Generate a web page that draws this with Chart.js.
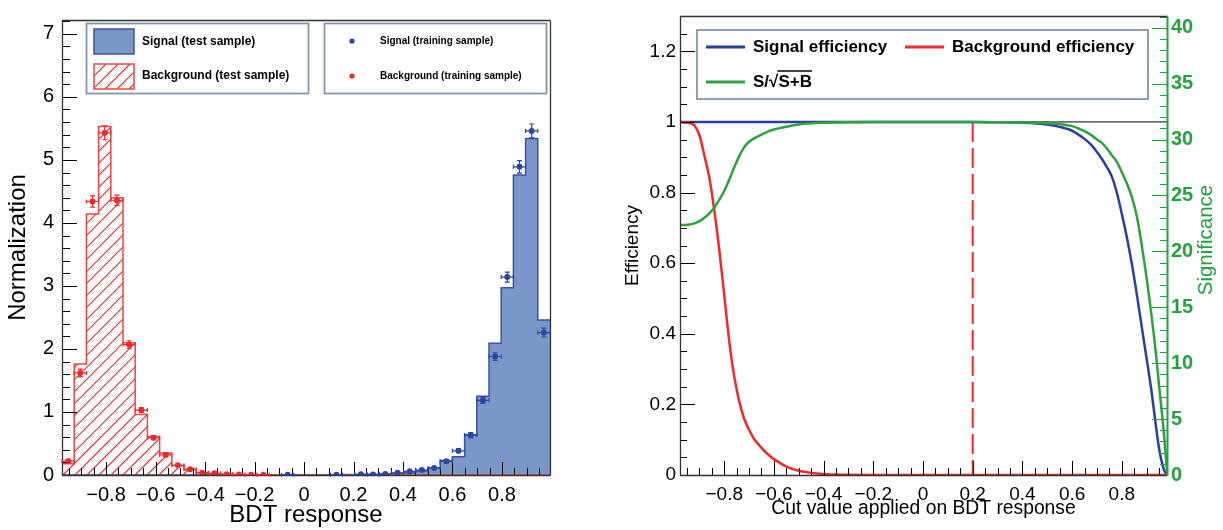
<!DOCTYPE html>
<html>
<head>
<meta charset="utf-8">
<script src="https://cdn.jsdelivr.net/npm/chart.js@4.4.0/dist/chart.umd.min.js"></script>
<style>
  body { margin: 0; background: #fff; width: 1223px; height: 530px; overflow: hidden; position: relative; }
  #left { position: absolute; left: 0; top: 0; }
  #right { position: absolute; left: 600px; top: 0; }
</style>
</head>
<body>
<canvas id="left" width="600" height="530" style="width:600px;height:530px"></canvas>
<canvas id="right" width="623" height="530" style="width:623px;height:530px"></canvas>
<script>
// BDT output binning
const bdtMin = -0.978;
const bdtMax = 0.994;
const nBins = 40;

// normalised test sample histograms, one value per bin
const sigTest = [0, 0, 0, 0, 0, 0, 0, 0, 0, 0,
  0, 0, 0, 0, 0, 0, 0, 0.002, 0.003, 0.003,
  0.004, 0.004, 0.005, 0.006, 0.008, 0.012, 0.016, 0.025, 0.04, 0.065,
  0.11, 0.23, 0.29, 0.64, 1.25, 2.09, 2.97, 4.76, 5.34, 2.46];
const bkgTest = [0.18, 1.76, 4.14, 5.53, 4.40, 2.10, 0.96, 0.61, 0.35, 0.15,
  0.085, 0.035, 0.018, 0.01, 0.006, 0.004, 0.003, 0.002, 0.001, 0,
  0, 0, 0, 0, 0, 0, 0, 0, 0, 0,
  0, 0, 0, 0, 0, 0, 0, 0, 0, 0];

// training sample points (null = empty bin) and their errors
const sigTrain = [null, null, null, null, null, null, null, null, null, null,
  null, null, null, null, null, null, null, null, 0.003, null,
  null, null, 0.004, null, 0.01, 0.007, 0.015, 0.035, 0.058, 0.078,
  0.112, 0.217, 0.383, 0.633, 1.185, 1.88, 3.14, 4.89, 5.46, 2.26];
const sigTrainErr = [0, 0, 0, 0, 0, 0, 0, 0, 0, 0,
  0, 0, 0, 0, 0, 0, 0, 0, 0.003, 0,
  0, 0, 0.003, 0, 0.004, 0.004, 0.005, 0.008, 0.01, 0.012,
  0.015, 0.02, 0.03, 0.04, 0.05, 0.06, 0.08, 0.1, 0.11, 0.07];
const bkgTrain = [0.22, 1.62, 4.34, 5.43, 4.36, 2.07, 1.03, 0.59, 0.318, 0.154,
  0.092, 0.036, 0.026, 0.01, 0.006, 0.005, 0.003, null, null, null,
  null, null, null, null, null, null, null, null, null, null,
  null, null, null, null, null, null, null, null, null, null];
const bkgTrainErr = [0.03, 0.06, 0.09, 0.11, 0.08, 0.06, 0.04, 0.03, 0.02, 0.015,
  0.012, 0.008, 0.006, 0.004, 0.004, 0.003, 0.003, 0, 0, 0,
  0, 0, 0, 0, 0, 0, 0, 0, 0, 0,
  0, 0, 0, 0, 0, 0, 0, 0, 0, 0];

const histXTicks = [-0.8, -0.6, -0.4, -0.2, 0, 0.2, 0.4, 0.6, 0.8];
const histYTicks = [0, 1, 2, 3, 4, 5, 6, 7];

// cut scan: efficiencies and significance versus cut value
const cutMin = -0.978;
const cutMax = 0.982;
const cutValues = [-0.978, -0.96, -0.94, -0.92, -0.90, -0.88, -0.86, -0.84, -0.82, -0.80,
  -0.78, -0.76, -0.74, -0.72, -0.70, -0.68, -0.65, -0.62, -0.60, -0.55,
  -0.50, -0.45, -0.40, -0.35, -0.30, -0.20, -0.10, 0, 0.10, 0.20,
  0.30, 0.40, 0.50, 0.55, 0.60, 0.62, 0.65, 0.68, 0.70, 0.72,
  0.74, 0.76, 0.78, 0.80, 0.82, 0.84, 0.86, 0.88, 0.90, 0.92,
  0.94, 0.95, 0.96, 0.97, 0.982];
const sigEff = [1, 1, 1, 1, 1, 1, 1, 1, 1, 1,
  1, 1, 1, 1, 1, 1, 1, 1, 1, 1,
  1, 1, 1, 1, 1, 1, 1, 1, 1, 1,
  0.999, 0.998, 0.993, 0.986, 0.975, 0.967, 0.952, 0.933, 0.915, 0.895,
  0.872, 0.845, 0.80, 0.74, 0.675, 0.60, 0.514, 0.421, 0.33, 0.235,
  0.125, 0.075, 0.04, 0.015, 0];
const bkgEff = [1, 0.999, 0.997, 0.99, 0.963, 0.905, 0.842, 0.75, 0.638, 0.51,
  0.38, 0.28, 0.21, 0.16, 0.128, 0.102, 0.077, 0.056, 0.045, 0.024,
  0.012, 0.006, 0.003, 0.0015, 0.0007, 0.0002, 0, 0, 0, 0,
  0, 0, 0, 0, 0, 0, 0, 0, 0, 0,
  0, 0, 0, 0, 0, 0, 0, 0, 0, 0,
  0, 0, 0, 0, 0];
const significance = [22.35, 22.35, 22.4, 22.5, 22.7, 23.0, 23.4, 23.9, 24.6, 25.4,
  26.4, 27.5, 28.5, 29.3, 29.8, 30.1, 30.45, 30.75, 30.9, 31.15,
  31.35, 31.45, 31.5, 31.53, 31.55, 31.56, 31.56, 31.56, 31.56, 31.56,
  31.55, 31.52, 31.45, 31.4, 31.2, 31.05, 30.75, 30.35, 30.0, 29.7,
  29.2, 28.6, 28.0, 27.1, 26.1, 24.9, 23.2, 20.6, 17.6, 14.2,
  10.3, 8.0, 5.9, 3.6, 0.3];
const optimalCut = 0.2;

const effTicks = [0, 0.2, 0.4, 0.6, 0.8, 1, 1.2];
const sigTicks = [0, 5, 10, 15, 20, 25, 30, 35, 40];

const FONT = '"Liberation Sans", Arial, Helvetica, sans-serif';
const green = '#23a23d';
const sigFill = '#7b96c9';
const sigLine = '#3a52a2';
const sigDot = '#2b46a3';
const bkgLine = '#f04646';
const bkgHatch = 'rgb(245, 45, 45)';
const bkgDot = '#ee2a2a';

const binWidth = (bdtMax - bdtMin) / nBins;
const binCenter = i => bdtMin + (i + 0.5) * binWidth;

function fmt(v) {
  if (Math.abs(v) < 1e-9) return '0';
  const s = Math.abs(v).toFixed(1).replace(/\.0$/, '');
  return (v < 0 ? '\u2212' : '') + s;
}

// histogram outline as a stepped line through the bin edges
function steps(vals) {
  const pts = vals.map((v, i) => ({ x: bdtMin + i * binWidth, y: v }));
  pts.push({ x: bdtMax, y: vals[vals.length - 1] });
  return pts;
}

function points(vals, errs) {
  const out = [];
  vals.forEach((v, i) => {
    if (v !== null) out.push({ x: binCenter(i), y: v, err: errs[i] });
  });
  return out;
}

function curve(ys) {
  return cutValues.map((x, i) => ({ x: x, y: ys[i] }));
}

// diagonal hatching inside the current clip region, one stroke per line
function hatchLines(ctx, x0, y0, x1, y1, color) {
  const h = y1 - y0;
  ctx.lineWidth = 1.2;
  for (let x = x0 - h; x < x1 + 12; x += 12) {
    ctx.beginPath();
    ctx.strokeStyle = color;
    ctx.moveTo(x, y1);
    ctx.lineTo(x + h, y0);
    ctx.stroke();
  }
}

const hatchFill = {
  id: 'hatchFill',
  afterDatasetDraw(chart, args) {
    const ds = chart.data.datasets[args.index];
    if (!ds.hatchColor) return;
    const { ctx, chartArea: a } = chart;
    const pts = args.meta.dataset.points;
    const y0 = chart.scales.y.getPixelForValue(0);
    ctx.save();
    ctx.beginPath();
    ctx.rect(a.left, a.top, a.right - a.left, a.bottom - a.top);
    ctx.clip();
    ctx.beginPath();
    ctx.moveTo(pts[0].x, y0);
    pts.forEach((p, i) => {
      if (i > 0) ctx.lineTo(p.x, pts[i - 1].y);
      ctx.lineTo(p.x, p.y);
    });
    ctx.lineTo(pts[pts.length - 1].x, y0);
    ctx.closePath();
    ctx.clip();
    hatchLines(ctx, a.left, a.top, a.right, a.bottom, ds.hatchColor);
    ctx.restore();
  }
};

// tick marks drawn inside the frame, ROOT style
const frameTicks = {
  id: 'frameTicks',
  afterDatasetsDraw(chart, args, opts) {
    const { ctx, chartArea: a } = chart;
    ctx.save();
    ctx.lineWidth = 1;
    (opts.axes || []).forEach(ax => {
      const sc = chart.scales[ax.id];
      ctx.strokeStyle = ax.color || '#000';
      const marks = ax.major.map(v => [v, ax.majorLen]);
      const k0 = Math.ceil(sc.min / ax.minorStep - 1e-6);
      const k1 = Math.floor(sc.max / ax.minorStep + 1e-6);
      for (let k = k0; k <= k1; k++) {
        const v = k * ax.minorStep;
        if (!ax.major.some(m => Math.abs(m - v) < 1e-6)) marks.push([v, ax.minorLen]);
      }
      ctx.beginPath();
      marks.forEach(([v, len]) => {
        const p = Math.round(sc.getPixelForValue(v)) + 0.5;
        if (ax.side === 'bottom') { ctx.moveTo(p, a.bottom); ctx.lineTo(p, a.bottom - len); }
        if (ax.side === 'left') { ctx.moveTo(a.left, p); ctx.lineTo(a.left + len, p); }
        if (ax.side === 'right') { ctx.moveTo(a.right, p); ctx.lineTo(a.right - len, p); }
      });
      ctx.stroke();
    });
    // frame
    const l = Math.round(a.left) + 0.5, r = Math.round(a.right) + 0.5;
    const t = Math.round(a.top) + 0.5, b = Math.round(a.bottom) + 0.5;
    ctx.lineWidth = 1.3;
    ctx.strokeStyle = '#333';
    ctx.beginPath();
    ctx.moveTo(r, t); ctx.lineTo(l, t); ctx.lineTo(l, b); ctx.lineTo(r, b);
    ctx.stroke();
    ctx.strokeStyle = opts.rightColor || '#333';
    ctx.lineWidth = opts.rightWidth || 1.3;
    ctx.beginPath();
    ctx.moveTo(r, t); ctx.lineTo(r, b);
    ctx.stroke();
    ctx.restore();
  }
};

// error bars for the training sample points
const errorBars = {
  id: 'errorBars',
  afterDatasetsDraw(chart) {
    const { ctx } = chart;
    const xs = chart.scales.x, ys = chart.scales.y;
    ctx.save();
    chart.data.datasets.forEach(ds => {
      if (!ds.errorBars) return;
      ctx.strokeStyle = ds.borderColor;
      ctx.lineWidth = 1.2;
      ds.data.forEach(d => {
        const px = xs.getPixelForValue(d.x);
        const py = ys.getPixelForValue(d.y);
        const x0 = xs.getPixelForValue(d.x - binWidth / 2);
        const x1 = xs.getPixelForValue(d.x + binWidth / 2);
        const yt = ys.getPixelForValue(d.y + d.err);
        const yb = ys.getPixelForValue(Math.max(0, d.y - d.err));
        ctx.beginPath();
        ctx.moveTo(x0, py); ctx.lineTo(x1, py);
        ctx.moveTo(x0, py - 2); ctx.lineTo(x0, py + 2);
        ctx.moveTo(x1, py - 2); ctx.lineTo(x1, py + 2);
        if (py - yt > 1) {
          ctx.moveTo(px, yt); ctx.lineTo(px, yb);
          ctx.moveTo(px - 2.5, yt); ctx.lineTo(px + 2.5, yt);
          ctx.moveTo(px - 2.5, yb); ctx.lineTo(px + 2.5, yb);
        }
        ctx.stroke();
      });
    });
    ctx.restore();
  }
};

function legendBox(ctx, x, y, w, h) {
  ctx.fillStyle = '#fff';
  ctx.fillRect(x, y, w, h);
  ctx.strokeStyle = '#8793ad';
  ctx.lineWidth = 1.8;
  ctx.strokeRect(x, y, w, h);
}

const histLegend = {
  id: 'histLegend',
  afterDraw(chart) {
    const { ctx } = chart;
    const ds = chart.data.datasets;
    const sTrain = ds[0], bTrain = ds[1], sTest = ds[2], bTest = ds[3];
    ctx.save();
    legendBox(ctx, 86.5, 23.5, 222, 70);
    ctx.fillStyle = sTest.backgroundColor;
    ctx.fillRect(94, 29, 40, 25);
    ctx.strokeStyle = sTest.borderColor;
    ctx.lineWidth = 1.5;
    ctx.strokeRect(94, 29, 40, 25);
    ctx.save();
    ctx.beginPath();
    ctx.rect(94, 64, 40, 25);
    ctx.clip();
    hatchLines(ctx, 94, 64, 134, 89, bTest.hatchColor);
    ctx.restore();
    ctx.strokeStyle = bTest.borderColor;
    ctx.lineWidth = 1.5;
    ctx.strokeRect(94, 64, 40, 25);
    ctx.fillStyle = '#000';
    ctx.textBaseline = 'middle';
    ctx.font = 'bold 12px ' + FONT;
    ctx.fillText(sTest.label, 142, 42);
    ctx.fillText(bTest.label, 142, 76);

    legendBox(ctx, 324.5, 23.5, 222, 70);
    [[sTrain, 41], [bTrain, 76]].forEach(([d, yy]) => {
      ctx.fillStyle = d.backgroundColor;
      ctx.beginPath();
      ctx.arc(352, yy, 2.6, 0, Math.PI * 2);
      ctx.fill();
    });
    ctx.fillStyle = '#000';
    ctx.font = 'bold 10px ' + FONT;
    ctx.fillText(sTrain.label, 380, 41);
    ctx.fillText(bTrain.label, 380, 76);
    ctx.restore();
  }
};

function drawSqrtLabel(ctx, text, x, y) {
  const i = text.indexOf('\u221A');
  const head = text.slice(0, i + 1), radicand = text.slice(i + 1);
  ctx.fillText(head, x, y);
  const x1 = x + ctx.measureText(head).width;
  ctx.fillText(radicand, x1, y);
  const w = ctx.measureText(radicand).width;
  ctx.lineWidth = 1.6;
  ctx.beginPath();
  ctx.moveTo(x1 - 1, y - 11);
  ctx.lineTo(x1 + w, y - 11);
  ctx.stroke();
}

const effLegend = {
  id: 'effLegend',
  afterDraw(chart) {
    const { ctx } = chart;
    const ds = chart.data.datasets;
    ctx.save();
    legendBox(ctx, 97, 30, 451, 69);
    const items = [[ds[0], 106, 47], [ds[1], 305, 47], [ds[2], 106, 82]];
    ctx.font = 'bold 17px ' + FONT;
    ctx.textBaseline = 'middle';
    items.forEach(([d, x, y]) => {
      ctx.strokeStyle = d.borderColor;
      ctx.lineWidth = 3;
      ctx.beginPath();
      ctx.moveTo(x, y); ctx.lineTo(x + 39, y);
      ctx.stroke();
      ctx.fillStyle = '#000';
      ctx.strokeStyle = '#000';
      if (d.label.indexOf('\u221A') >= 0) drawSqrtLabel(ctx, d.label, x + 47, y);
      else ctx.fillText(d.label, x + 47, y);
    });
    // right axis title
    ctx.translate(606, 240);
    ctx.rotate(-Math.PI / 2);
    ctx.textAlign = 'center';
    ctx.fillStyle = green;
    ctx.font = '20.5px ' + FONT;
    ctx.fillText('Significance', 0, 0);
    ctx.restore();
  }
};

const setTicks = vals => scale => { scale.ticks = vals.map(v => ({ value: v })); };
const noGrid = { display: false, drawTicks: false, tickLength: 0 };

// left: BDT response distributions
new Chart(document.getElementById('left'), {
  type: 'line',
  data: {
    datasets: [
      { label: 'Signal (training sample)', data: points(sigTrain, sigTrainErr), showLine: false,
        backgroundColor: sigDot, borderColor: sigDot, pointRadius: 3, pointBorderWidth: 0, errorBars: true, order: 0 },
      { label: 'Background (training sample)', data: points(bkgTrain, bkgTrainErr), showLine: false,
        backgroundColor: bkgDot, borderColor: bkgDot, pointRadius: 3, pointBorderWidth: 0, errorBars: true, order: 1 },
      { label: 'Signal (test sample)', data: steps(sigTest), stepped: 'before', fill: 'origin',
        backgroundColor: sigFill, borderColor: sigLine, borderWidth: 1.5, pointRadius: 0, order: 3 },
      { label: 'Background (test sample)', data: steps(bkgTest), stepped: 'before', fill: false,
        hatchColor: bkgHatch, borderColor: bkgLine, borderWidth: 1.5, pointRadius: 0, order: 2 }
    ]
  },
  options: {
    responsive: false,
    animation: false,
    devicePixelRatio: 1,
    layout: { padding: { top: 6, right: 50, left: 0, bottom: 0 } },
    plugins: {
      legend: { display: false },
      tooltip: { enabled: false },
      frameTicks: {
        axes: [
          { id: 'x', side: 'bottom', major: histXTicks, minorStep: 0.05, majorLen: 13, minorLen: 7 },
          { id: 'y', side: 'left', major: histYTicks, minorStep: 0.2, majorLen: 15, minorLen: 8 }
        ]
      }
    },
    scales: {
      x: {
        type: 'linear', min: bdtMin, max: bdtMax,
        grid: noGrid, border: { display: false },
        afterBuildTicks: setTicks(histXTicks),
        afterFit: s => { s.height = 55; },
        ticks: { callback: fmt, color: '#000', font: { family: FONT, size: 20 }, padding: 8, maxRotation: 0, autoSkip: false },
        title: { display: true, text: 'BDT response', color: '#000', font: { family: FONT, size: 24 }, padding: { top: 0, bottom: 0 } }
      },
      y: {
        type: 'linear', min: 0, max: 7.22,
        grid: noGrid, border: { display: false },
        afterBuildTicks: setTicks(histYTicks),
        afterFit: s => { s.width = 62; },
        ticks: { callback: fmt, color: '#000', font: { family: FONT, size: 20 }, padding: 8 },
        title: { display: true, text: 'Normalization', color: '#000', font: { family: FONT, size: 24 }, padding: { top: 4, bottom: 0 } }
      }
    }
  },
  plugins: [hatchFill, frameTicks, errorBars, histLegend]
});

// right: cut efficiencies and significance
new Chart(document.getElementById('right'), {
  type: 'line',
  data: {
    datasets: [
      { label: 'Signal efficiency', data: curve(sigEff), borderColor: '#2b3f9c', borderWidth: 2.5,
        pointRadius: 0, cubicInterpolationMode: 'monotone', yAxisID: 'y', order: 2 },
      { label: 'Background efficiency', data: curve(bkgEff), borderColor: '#f02a2a', borderWidth: 2.5,
        pointRadius: 0, cubicInterpolationMode: 'monotone', yAxisID: 'y', order: 1 },
      { label: 'S/\u221AS+B', data: curve(significance), borderColor: '#2ca33f', borderWidth: 2.5,
        pointRadius: 0, cubicInterpolationMode: 'monotone', yAxisID: 'y2', order: 0 },
      { label: 'cut', data: [{ x: optimalCut, y: 1 }, { x: optimalCut, y: 0 }], borderColor: '#f02a2a',
        borderWidth: 2, borderDash: [20, 6], pointRadius: 0, yAxisID: 'y', order: 3 },
      { label: 'unity', data: [{ x: cutMin, y: 1 }, { x: cutMax, y: 1 }], borderColor: '#000',
        borderWidth: 1, pointRadius: 0, yAxisID: 'y', order: 4 }
    ]
  },
  options: {
    responsive: false,
    animation: false,
    devicePixelRatio: 1,
    layout: { padding: { top: 6, right: 0, left: 0, bottom: 0 } },
    plugins: {
      legend: { display: false },
      tooltip: { enabled: false },
      frameTicks: {
        rightColor: green, rightWidth: 2,
        axes: [
          { id: 'x', side: 'bottom', major: histXTicks, minorStep: 0.05, majorLen: 14, minorLen: 7 },
          { id: 'y', side: 'left', major: effTicks, minorStep: 0.05, majorLen: 15, minorLen: 7 },
          { id: 'y2', side: 'right', major: sigTicks, minorStep: 1, majorLen: 15, minorLen: 7, color: green }
        ]
      }
    },
    scales: {
      x: {
        type: 'linear', min: cutMin, max: cutMax,
        grid: noGrid, border: { display: false },
        afterBuildTicks: setTicks(histXTicks),
        afterFit: s => { s.height = 55; },
        ticks: { callback: fmt, color: '#000', font: { family: FONT, size: 19 }, padding: 8, maxRotation: 0, autoSkip: false },
        title: { display: true, text: 'Cut value applied on BDT response', color: '#000', font: { family: FONT, size: 19.3 }, padding: { top: 0, bottom: 10 } }
      },
      y: {
        type: 'linear', position: 'left', min: 0, max: 1.3,
        grid: noGrid, border: { display: false },
        afterBuildTicks: setTicks(effTicks),
        afterFit: s => { s.width = 80; },
        ticks: { callback: fmt, color: '#000', font: { family: FONT, size: 19 }, padding: 4 },
        title: { display: true, text: 'Efficiency', color: '#000', font: { family: FONT, size: 19 }, padding: { top: 21, bottom: 0 } }
      },
      y2: {
        type: 'linear', position: 'right', min: 0, max: 41.05,
        grid: noGrid, border: { display: false },
        afterBuildTicks: setTicks(sigTicks),
        afterFit: s => { s.width = 56; },
        ticks: { color: green, font: { family: FONT, size: 20, weight: 'bold' }, padding: 4 }
      }
    }
  },
  plugins: [frameTicks, effLegend]
});
</script>
</body>
</html>
